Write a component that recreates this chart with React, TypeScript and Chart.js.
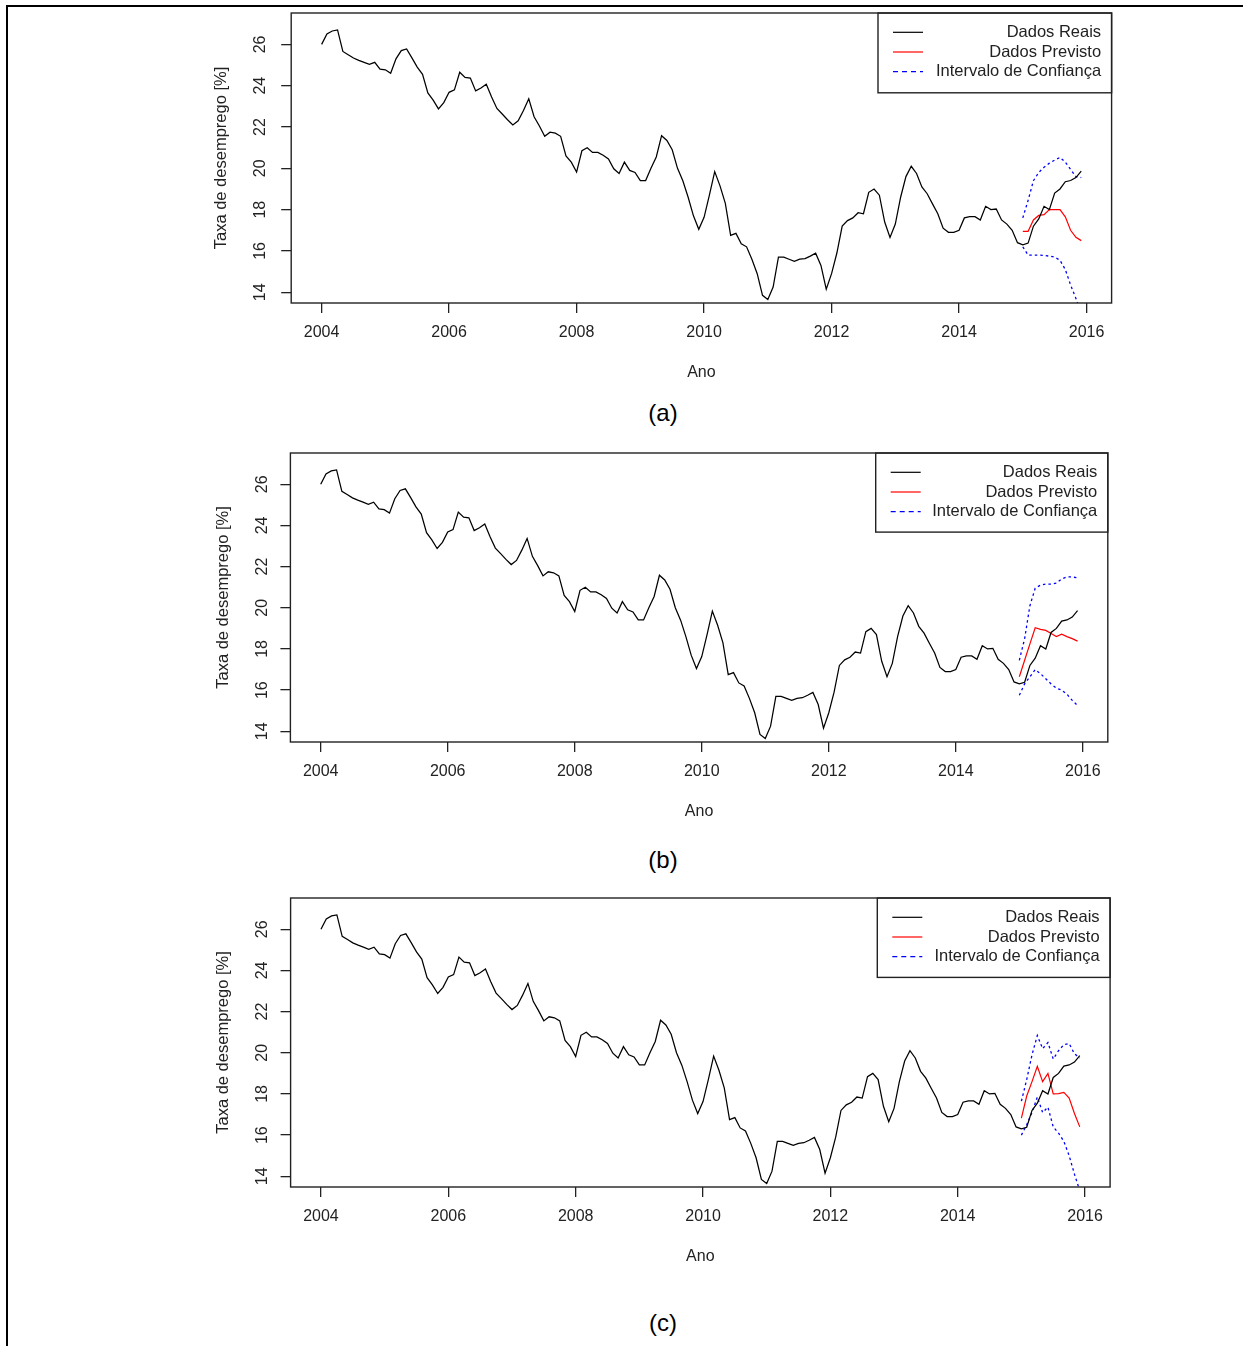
import React, { useEffect, useRef } from "react";
import { Chart, registerables } from "chart.js";

Chart.register(...registerables);

const FONT = '"Liberation Sans", Arial, Helvetica, sans-serif';

// ---------- DATA ----------
const anoInicial = 2004; // first month: Jan 2004 (monthly series)
const anoPrevisao = 2015; // forecasts start Jan 2015

const dadosReais: number[] = [
  // 2004
  26.0, 26.5, 26.65, 26.7, 25.66, 25.5, 25.34, 25.23, 25.13, 25.03, 25.13, 24.8,
  // 2005
  24.77, 24.6, 25.3, 25.7, 25.78, 25.35, 24.9, 24.55, 23.65, 23.3, 22.88, 23.18,
  // 2006
  23.68, 23.8, 24.65, 24.4, 24.37, 23.75, 23.89, 24.07, 23.45, 22.9, 22.63, 22.35,
  // 2007
  22.1, 22.3, 22.8, 23.37, 22.5, 22.05, 21.55, 21.75, 21.7, 21.55, 20.6, 20.3,
  // 2008
  19.82, 20.85, 21.0, 20.77, 20.77, 20.63, 20.45, 19.98, 19.75, 20.3, 19.9, 19.8,
  // 2009
  19.41, 19.41, 20.0, 20.55, 21.58, 21.35, 20.9, 20.0, 19.4, 18.6, 17.7, 17.05,
  // 2010
  17.63, 18.7, 19.84, 19.15, 18.3, 16.75, 16.85, 16.35, 16.2, 15.6, 14.9, 13.85,
  // 2011
  13.65, 14.25, 15.7, 15.7, 15.6, 15.5, 15.6, 15.63, 15.75, 15.89, 15.3, 14.15,
  // 2012
  14.9, 15.9, 17.2, 17.47, 17.6, 17.85, 17.8, 18.84, 19.0, 18.7, 17.4, 16.65,
  // 2013
  17.3, 18.6, 19.6, 20.1, 19.75, 19.1, 18.77, 18.28, 17.8, 17.1, 16.9, 16.9,
  // 2014
  17.0, 17.6, 17.66, 17.66, 17.5, 18.16, 18.0, 18.03, 17.5, 17.3, 17.0, 16.4,
  // 2015
  16.3, 16.38, 17.2, 17.55, 18.16, 18.0, 18.8, 19.0, 19.35, 19.41, 19.55, 19.86,
];

// (a)
const previstoA = [16.95, 16.95, 17.5, 17.72, 17.76, 18.0, 18.0, 18.0, 17.65, 17.0, 16.66, 16.5];
const superiorA = [17.6, 18.45, 19.4, 19.8, 20.05, 20.25, 20.4, 20.53, 20.3, 19.95, 19.6, 19.55];
const inferiorA = [16.2, 15.8, 15.8, 15.8, 15.78, 15.75, 15.7, 15.55, 15.1, 14.35, 13.7, 13.0];
// (b)
const previstoB = [16.65, 17.45, 18.25, 19.03, 18.95, 18.9, 18.75, 18.6, 18.72, 18.6, 18.5, 18.38];
const superiorB = [17.45, 18.5, 20.1, 20.95, 21.1, 21.15, 21.15, 21.2, 21.4, 21.5, 21.5, 21.45];
const inferiorB = [15.75, 16.3, 16.65, 17.0, 16.8, 16.55, 16.3, 16.1, 16.0, 15.8, 15.5, 15.25];
// (c)
const previstoC = [16.83, 17.9, 18.6, 19.34, 18.6, 19.0, 18.0, 18.02, 18.08, 17.8, 17.05, 16.4];
const superiorC = [17.65, 18.7, 19.9, 20.84, 20.2, 20.5, 19.7, 20.1, 20.4, 20.45, 19.95, 19.75];
const inferiorC = [16.0, 16.5, 17.1, 17.85, 17.1, 17.36, 16.4, 16.1, 15.7, 15.0, 14.1, 13.3];

const xTickValues = [2004, 2006, 2008, 2010, 2012, 2014, 2016];
const yTickValues = [14, 16, 18, 20, 22, 24, 26];
const legendLabels = ["Dados Reais", "Dados Previsto", "Intervalo de Confiança"];
const xTitle = "Ano";
const yTitle = "Taxa de desemprego [%]";
const captions = ["(a)", "(b)", "(c)"];

// axis limits (R style: 4% padding)
const X_MIN = 2003.523;
const X_MAX = 2016.393;
const Y_MIN = 13.48;
const Y_MAX = 27.52;

// ---------- LAYOUT (page coordinates) ----------
const PAGE_W = 1243;
const PAGE_H = 1346;
const CANVAS_LEFT = 200;
const TOP_PAD = 10;
const X_SCALE_H = 95;
const TICK_LEN = 10;

type Geom = {
  L: number; T: number; R: number; B: number;
  yTitleX: number; yLabelX: number;
  legendLeft: number; legendBottom: number;
  captionY: number;
};

const geoms: Geom[] = [
  { L: 291.2, T: 12.5, R: 1111.6, B: 302.5, yTitleX: 221.7, yLabelX: 260.5, legendLeft: 878, legendBottom: 92.3, captionY: 413 },
  { L: 290.4, T: 452.6, R: 1107.8, B: 741.6, yTitleX: 223, yLabelX: 262.5, legendLeft: 875.7, legendBottom: 531.7, captionY: 860 },
  { L: 290.6, T: 897.9, R: 1110.1, B: 1187.2, yTitleX: 223.3, yLabelX: 262.5, legendLeft: 877.3, legendBottom: 977.3, captionY: 1323 },
];

const AXIS_COLOR = "#222";

const boxLegendPlugin = {
  id: "boxLegend",
  afterDraw(chart: any, _args: any, opts: any) {
    const { ctx, chartArea } = chart;
    const { left, top, right, bottom } = chartArea;
    ctx.save();
    ctx.strokeStyle = AXIS_COLOR;
    ctx.lineWidth = 1.4;
    ctx.strokeRect(left, top, right - left, bottom - top);
    // legend box
    const lx = opts.legendLeft;
    const lh = opts.legendHeight;
    ctx.strokeRect(lx, top, right - lx, lh);
    const rows = [19.3, 39.0, 58.6];
    ctx.font = `16.5px ${FONT}`;
    ctx.textAlign = "right";
    ctx.textBaseline = "middle";
    opts.items.forEach((it: any, i: number) => {
      const y = top + rows[i];
      ctx.beginPath();
      ctx.strokeStyle = it.color;
      ctx.lineWidth = 1.2;
      ctx.setLineDash(it.dash || []);
      ctx.moveTo(lx + 15, y);
      ctx.lineTo(lx + 45, y);
      ctx.stroke();
      ctx.setLineDash([]);
      ctx.fillStyle = "#222";
      ctx.fillText(it.label, right - 10.5, y);
    });
    ctx.restore();
  },
};

function Panel({ geom, previsto, superior, inferior }: { geom: Geom; previsto: number[]; superior: number[]; inferior: number[] }) {
  const ref = useRef<HTMLCanvasElement>(null);
  const canvasTop = geom.T - TOP_PAD;
  const canvasW = PAGE_W - CANVAS_LEFT;
  const canvasH = geom.B - canvasTop + X_SCALE_H;

  useEffect(() => {
    if (!ref.current) return;
    const real = dadosReais.map((v, i) => ({ x: anoInicial + i / 12, y: v }));
    const fc = (arr: number[]) => arr.map((v, i) => ({ x: anoPrevisao + i / 12, y: v }));
    const tickFont = { family: FONT, size: 16 };
    const titleFont = { family: FONT, size: 16.5 };
    const yScaleW = geom.L - CANVAS_LEFT;
    const yTickPad = geom.L - TICK_LEN - 8.9 - geom.yLabelX;

    const chart = new Chart(ref.current, {
      type: "line",
      data: {
        datasets: [
          { label: legendLabels[0], data: real, borderColor: "#000", borderWidth: 1.25, pointRadius: 0, tension: 0, fill: false },
          { label: legendLabels[1], data: fc(previsto), borderColor: "#ff0000", borderWidth: 1.2, pointRadius: 0, tension: 0, fill: false },
          { label: legendLabels[2], data: fc(superior), borderColor: "#0000ff", borderWidth: 1.3, borderDash: [2.5, 3], pointRadius: 0, tension: 0, fill: false },
          { label: legendLabels[2], data: fc(inferior), borderColor: "#0000ff", borderWidth: 1.3, borderDash: [2.5, 3], pointRadius: 0, tension: 0, fill: false },
        ],
      },
      options: {
        animation: false,
        responsive: false,
        events: [],
        layout: { padding: { top: TOP_PAD, left: 0, bottom: 0, right: PAGE_W - geom.R } },
        plugins: {
          legend: { display: false },
          tooltip: { enabled: false },
          boxLegend: {
            legendLeft: geom.legendLeft - CANVAS_LEFT,
            legendHeight: geom.legendBottom - geom.T,
            items: [
              { label: legendLabels[0], color: "#000" },
              { label: legendLabels[1], color: "#ff0000" },
              { label: legendLabels[2], color: "#0000ff", dash: [5, 4] },
            ],
          },
        } as any,
        scales: {
          x: {
            type: "linear",
            min: X_MIN,
            max: X_MAX,
            afterBuildTicks: (s: any) => { s.ticks = xTickValues.map((v) => ({ value: v })); },
            afterFit: (s: any) => { s.height = X_SCALE_H; s.paddingLeft = 0; s.paddingRight = 0; },
            border: { display: false },
            grid: { drawOnChartArea: false, drawTicks: true, tickLength: TICK_LEN, color: AXIS_COLOR, lineWidth: 1.3 },
            ticks: {
              autoSkip: false, minRotation: 0, maxRotation: 0, padding: 30 - TICK_LEN - 9.6,
              color: AXIS_COLOR, font: tickFont,
              callback: (v: any) => String(v),
            },
            title: { display: true, text: xTitle, color: AXIS_COLOR, font: tickFont, padding: { top: 0, bottom: X_SCALE_H - 70 - 9.6 } },
          },
          y: {
            type: "linear",
            min: Y_MIN,
            max: Y_MAX,
            afterBuildTicks: (s: any) => { s.ticks = yTickValues.map((v) => ({ value: v })); },
            afterFit: (s: any) => { s.width = yScaleW; s.paddingTop = 0; s.paddingBottom = 0; },
            border: { display: false },
            grid: { drawOnChartArea: false, drawTicks: true, tickLength: TICK_LEN, color: AXIS_COLOR, lineWidth: 1.3 },
            ticks: {
              autoSkip: false, minRotation: 90, maxRotation: 90, crossAlign: "center", padding: yTickPad,
              color: AXIS_COLOR, font: tickFont,
              callback: (v: any) => String(v),
            },
            title: { display: true, text: yTitle, color: AXIS_COLOR, font: titleFont, padding: { top: geom.yTitleX - CANVAS_LEFT - 9.9, bottom: 0 } },
          },
        },
      } as any,
      plugins: [boxLegendPlugin as any],
    });
    return () => chart.destroy();
  }, []);

  return (
    <canvas
      ref={ref}
      width={canvasW}
      height={canvasH}
      style={{ position: "absolute", left: CANVAS_LEFT, top: canvasTop, width: canvasW, height: canvasH }}
    />
  );
}

export default function App() {
  const series = [
    { previsto: previstoA, superior: superiorA, inferior: inferiorA },
    { previsto: previstoB, superior: superiorB, inferior: inferiorB },
    { previsto: previstoC, superior: superiorC, inferior: inferiorC },
  ];
  return (
    <div style={{ position: "absolute", left: 0, top: 0, width: PAGE_W, height: PAGE_H, background: "#fff", overflow: "hidden" }}>
      <div
        style={{
          position: "absolute", left: 6, top: 5, width: PAGE_W, height: PAGE_H,
          borderTop: "2px solid #000", borderLeft: "2px solid #000", boxSizing: "border-box",
        }}
      />
      {geoms.map((g, i) => (
        <React.Fragment key={i}>
          <Panel geom={g} previsto={series[i].previsto} superior={series[i].superior} inferior={series[i].inferior} />
          <div
            style={{
              position: "absolute", left: 663, top: g.captionY, transform: "translate(-50%, -50%)",
              fontFamily: FONT, fontSize: 24, color: "#000", whiteSpace: "nowrap", lineHeight: 1,
            }}
          >
            {captions[i]}
          </div>
        </React.Fragment>
      ))}
    </div>
  );
}
